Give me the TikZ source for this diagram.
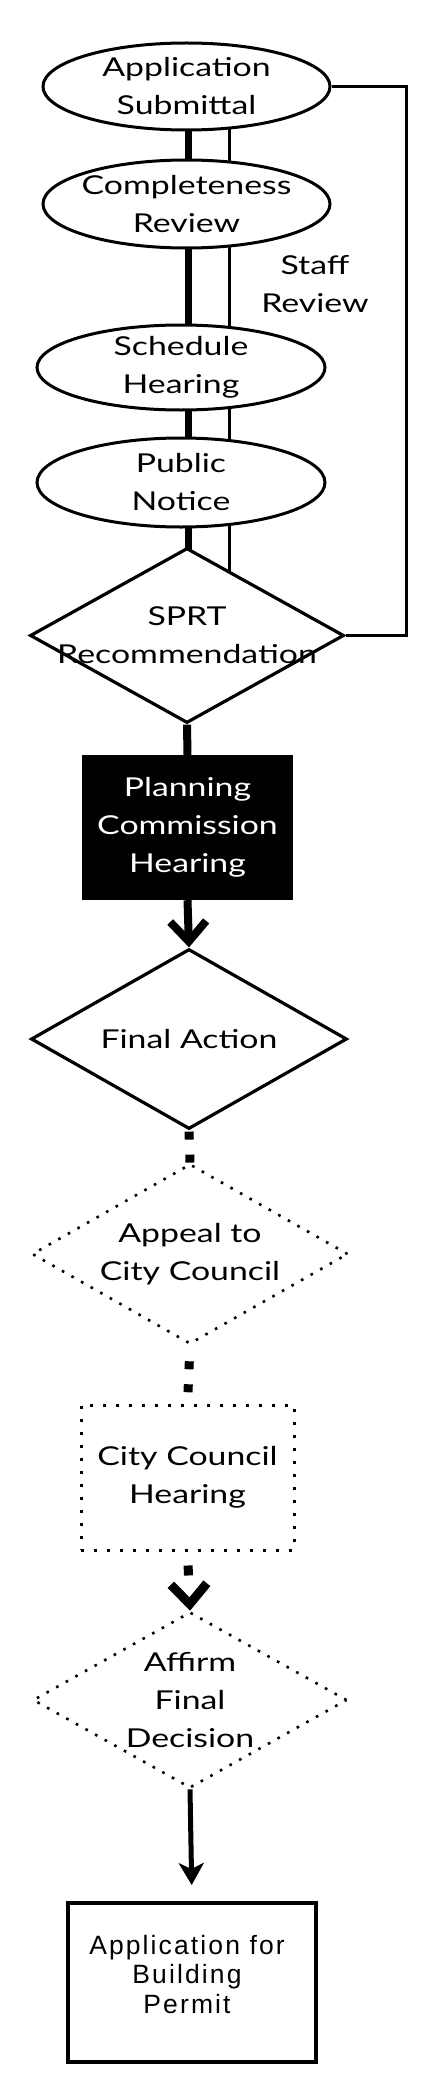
\documentclass[tikz,border=0pt]{standalone}
\usepackage{fontspec}
\newfontfamily\gill[FakeStretch=1.3]{Lato}
\newfontfamily\arialsp[LetterSpace=8]{Liberation Sans}
\usetikzlibrary{shapes.geometric,arrows.meta,backgrounds}
\begin{document}
\begin{tikzpicture}[x=1pt,y=-1pt,
  txt/.style={font=\gill\fontsize{26}{38}\selectfont, align=center, inner sep=0},
  ell/.style={ellipse, draw, line width=3pt, fill=white, inner sep=0},
  dia/.style={diamond, draw, line width=3.2pt, fill=white, inner sep=0},
  dotdia/.style={diamond, draw, line width=2.6pt, dash pattern=on 2.6pt off 8.4pt, fill=white, inner sep=0},
  thickln/.style={line width=7pt},
  thinln/.style={line width=3pt},
  sqdots/.style={line width=9pt, dash pattern=on 8pt off 15pt},
]
\useasboundingbox (0,0) rectangle (432,2100);
% coordinates for the two vertical rails
\coordinate (xk) at (188,0);
\coordinate (xn) at (229.5,0);
\coordinate (rc) at (406,86.5);

\node[ell, minimum width=287, minimum height=87, label={[txt]center:{Application\\Submittal}}] (e1) at (186.5,86.5) {};
\node[ell, minimum width=287, minimum height=88, label={[txt]center:{Completeness\\Review}}] (e2) at (186.5,204) {};
\node[ell, minimum width=288, minimum height=85, label={[txt]center:{Schedule\\Hearing}}] (e3) at (181,367.5) {};
\node[ell, minimum width=288, minimum height=89, label={[txt]center:{Public\\Notice}}] (e4) at (181,482.5) {};
\node[dia, minimum width=314, minimum height=175, label={[txt]center:{SPRT\\Recommendation}}] (sprt) at (187,635.5) {};
\node[txt] (staff) at (315,284) {Staff\\Review};

\node[rectangle, fill=black, minimum width=211, minimum height=145, inner sep=0,
      label={[txt, text=white]center:{Planning\\Commission\\Hearing}}] (pc) at (187.5,827.5) {};

\node[dia, minimum width=316, minimum height=180, label={[txt]center:{Final Action}}] (fa) at (189,1039) {};
\node[dotdia, minimum width=316, minimum height=180, label={[txt]center:{Appeal to\\City Council}}] (ap) at (190,1254) {};
\node[rectangle, draw, line width=3pt, dash pattern=on 3pt off 10pt, fill=white, minimum width=213, minimum height=145, inner sep=0,
      label={[txt]center:{City Council\\Hearing}}] (cc) at (187.5,1477.5) {};
\node[dotdia, minimum width=314, minimum height=176, label={[txt]center:{Affirm\\Final\\Decision}}] (af) at (190,1700) {};
\node[rectangle, draw, line width=4pt, fill=white, minimum width=248, minimum height=159, inner sep=0,
      label={[font=\arialsp\fontsize{26.5}{29.5}\selectfont, align=center, xshift=-5pt, yshift=8pt]center:{Application for\\Building\\Permit}}] (bp) at (192,1982.5) {};

\begin{pgfonlayer}{background}
  \draw[thickln] (e1 -| xk) -- (e2 -| xk);
  \draw[thickln] (e2 -| xk) -- (e3 -| xk);
  \draw[thickln] (e3 -| xk) -- (e4 -| xk);
  \draw[thickln] (e4 -| xk) -- (sprt -| xk);
  \draw[thinln] (e1 -| xn) -- (e2 -| xn);
  \draw[thinln] (e2 -| xn) -- (e3 -| xn);
  \draw[thinln] (e3 -| xn) -- (e4 -| xn);
  \draw[thinln] (e4 -| xn) -- (sprt -| xn);
\end{pgfonlayer}

\draw[line width=3pt] (e1.east) -- (rc) |- (sprt.east);
\draw[line width=8pt] (sprt.south) -- (pc.north);
\draw[line width=8pt, -{Straight Barb[length=20pt,width=36pt]}] (pc.south) -- (fa.north);
\draw[sqdots, shorten <=1pt] (fa.south) -- (ap.north);
\draw[sqdots, shorten <=16pt] (ap.south) -- (cc.north);
\draw[line width=9pt, dash pattern=on 10pt off 30pt, shorten <=14pt, -{Straight Barb[length=20pt,width=36pt]}] (cc.south) -- (af.north);
\draw[line width=5pt, shorten >=16pt, -{Stealth[length=22pt,width=25pt,inset=6pt]}] (af.south) -- (bp.north);
\end{tikzpicture}
\end{document}
